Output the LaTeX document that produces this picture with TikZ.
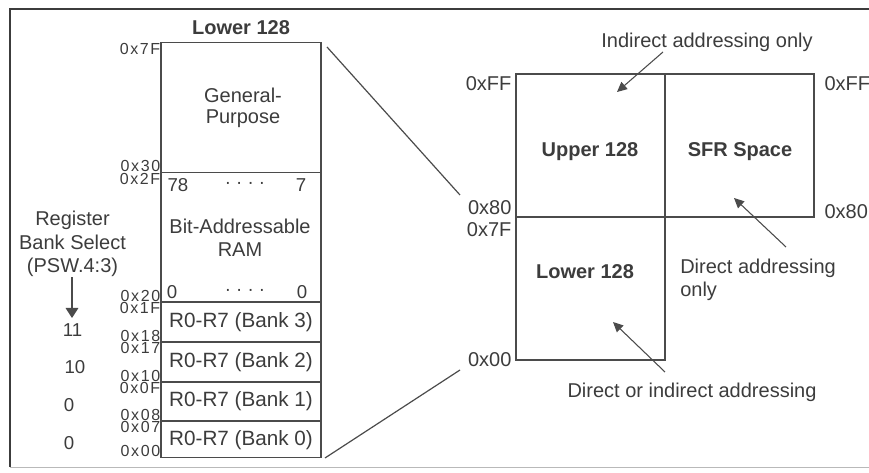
\documentclass[tikz,border=0pt]{standalone}
\usepackage{fontspec}
\setmainfont{Liberation Sans}
\newfontfamily\addrfont[LetterSpace=10]{Liberation Sans}
\usetikzlibrary{arrows.meta}
\definecolor{inkgray}{RGB}{60,60,60}
\definecolor{linegray}{RGB}{75,75,75}
\tikzset{
  txt/.style={text=inkgray, font=\fontsize{15}{17.5}\selectfont, inner sep=0pt},
  hdr/.style={txt, font=\fontsize{15}{17.5}\selectfont\bfseries},
  hexaddr/.style={text=inkgray, font={\addrfont\fontsize{12}{12}\selectfont}, inner sep=0pt},
  small/.style={text=inkgray, font=\fontsize{14}{14}\selectfont, inner sep=0pt},
  memline/.style={draw=linegray, line width=1pt},
  pointer/.style={draw=linegray, line width=0.8pt, -{Triangle[length=7.5pt,width=7pt]}},
}
\begin{document}
\begin{tikzpicture}[x=0.75pt,y=0.75pt,yscale=-1]
\useasboundingbox (0,0) rectangle (869,473);

%Shape: Frame
\draw [draw=inkgray, line width=1.3pt] (869,9) -- (10,9) -- (10,467);
\draw [draw=gray!55, line width=0.6pt] (10,467) -- (869,467);

%Shape: Lower 128 column
\draw [memline] (161,42.7) rectangle (321,457.5);
\foreach \y in {172.7,302,342,382,421}
  \draw [memline] (161,\y) -- (321,\y);

%Shape: Upper 128 / SFR Space / Lower 128 map
\draw [memline] (516,74) rectangle (814,217);
\draw [memline] (665,74) -- (665,360) -- (516,360) -- (516,217);

% Text Node
\node [hdr] (lowtitle) at (241,28) {Lower 128};
% Text Node
\node [txt, align=center, font=\fontsize{15}{15.75}\selectfont] (gp) at (243,107.5) {General-\\Purpose};
% Text Node
\node [txt, align=center, font=\fontsize{15}{16.7}\selectfont] (bitram) at (240,237.7) {Bit-Addressable\\RAM};
% Text Node
\node [small] (b78) at (178,185) {78};
\node [small] (bdots1) at (245,185) {· · · ·};
\node [small] (b7) at (301,185) {7};
\node [small] (b0l) at (172,292) {0};
\node [small] (bdots2) at (245,292) {· · · ·};
\node [small] (b0r) at (302,292) {0};
% Text Node
\node [txt, font=\fontsize{15.5}{17.5}\selectfont] (bank3) at (241,322) {R0-R7 (Bank 3)};
\node [txt, font=\fontsize{15.5}{17.5}\selectfont] (bank2) at (241,362) {R0-R7 (Bank 2)};
\node [txt, font=\fontsize{15.5}{17.5}\selectfont] (bank1) at (241,401.5) {R0-R7 (Bank 1)};
\node [txt, font=\fontsize{15.5}{17.5}\selectfont] (bank0) at (241,440) {R0-R7 (Bank 0)};

% Text Node
\node [hexaddr, anchor=north east] (a7F) at (160.5,43.2) {0x7F};
\node [hexaddr, anchor=south east] (a30) at (160.5,172.4) {0x30};
\node [hexaddr, anchor=north east] (a2F) at (160.5,173) {0x2F};
\node [hexaddr, anchor=south east] (a20) at (160.5,301.7) {0x20};
\node [hexaddr, anchor=north east] (a1F) at (160.5,302.3) {0x1F};
\node [hexaddr, anchor=south east] (a18) at (160.5,341.7) {0x18};
\node [hexaddr, anchor=north east] (a17) at (160.5,342.3) {0x17};
\node [hexaddr, anchor=south east] (a10) at (160.5,381.7) {0x10};
\node [hexaddr, anchor=north east] (a0F) at (160.5,382.3) {0x0F};
\node [hexaddr, anchor=south east] (a08) at (160.5,420.7) {0x08};
\node [hexaddr, anchor=north east] (a07) at (160.5,421.3) {0x07};
\node [hexaddr, anchor=south east] (a00) at (160.5,457.2) {0x00};

% Text Node
\node [txt, align=center] (regsel) at (72.5,244) {Register\\Bank Select\\(PSW.4:3)};
\coordinate (regtip) at (72,318);
\draw [pointer, -{Triangle[length=7.5pt,width=9.5pt]}] (regsel.south -| regtip) ++(0,0.5) -- (regtip);
% Text Node
\node [small] (rs11) at (72.5,330) {11};
\node [small] (rs10) at (75,367.5) {10};
\node [small] (rs01) at (69,405) {0};
\node [small] (rs00) at (69,443.5) {0};

% Text Node
\node [txt, anchor=north east, inner sep=1pt] (mFFl) at (513,75) {0xFF};
\node [txt, anchor=south east, inner sep=1pt] (m80l) at (513,216) {0x80};
\node [txt, anchor=north east, inner sep=1pt] (m7Fl) at (513,221) {0x7F};
\node [txt, anchor=east, inner sep=1pt] (m00l) at (513,360) {0x00};
\node [txt, anchor=north west, inner sep=1pt] (mFFr) at (823,75) {0xFF};
\node [txt, anchor=west, inner sep=1pt] (m80r) at (823,212) {0x80};

% Text Node
\node [hdr] (upper) at (590,152) {Upper 128};
\node [hdr] (sfr) at (740,152) {SFR Space};
\node [hdr] (lower) at (585,272) {Lower 128};

% Text Node
\node [txt] (indirect) at (707,42) {Indirect addressing only};
\node [txt, anchor=west, align=left, font=\fontsize{15}{17.25}\selectfont] (direct) at (680,280) {Direct addressing\\only};
\node [txt] (either) at (692,392) {Direct or indirect addressing};

% connectors
\coordinate (indtail) at (663,52);
\coordinate (indtip) at (617,92);
\coordinate (sfrtail) at (786,247);
\coordinate (sfrtip) at (734,198);
\coordinate (lowtail) at (665,372);
\coordinate (lowtip) at (613,322);
\draw [pointer] (indtail) -- (indtip);
\draw [pointer] (sfrtail) -- (sfrtip);
\draw [pointer] (lowtail) -- (lowtip);

\coordinate (colhi) at (327,47);
\coordinate (maphi) at (460,195);
\coordinate (collo) at (325,458);
\coordinate (maplo) at (460,370);
\draw [draw=linegray, line width=0.9pt] (colhi) -- (maphi);
\draw [draw=linegray, line width=0.9pt] (collo) -- (maplo);

\end{tikzpicture}
\end{document}
